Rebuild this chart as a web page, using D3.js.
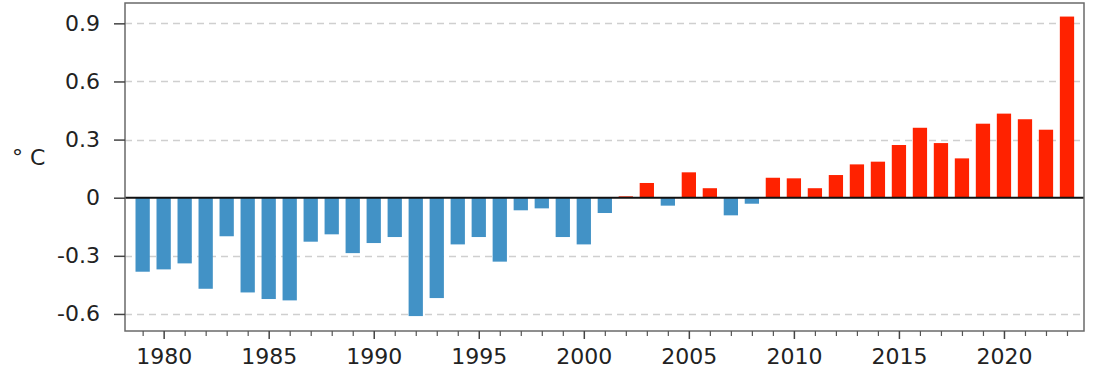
<!DOCTYPE html>
<html>
<head>
<meta charset="utf-8">
<script src="https://cdn.jsdelivr.net/npm/d3@7"></script>
<style>
  body { margin: 0; background: #fff; }
  text { font-family: "DejaVu Sans", sans-serif; fill: #222; }
</style>
</head>
<body>
<svg id="chart" width="1103" height="386"></svg>
<script>
// yearly temperature anomaly, degrees C
let years = d3.range(1979, 2024);
let anomalies = [
  -0.382, -0.370, -0.339, -0.470, -0.199, -0.489, -0.523, -0.530, -0.227, -0.189,
  -0.286, -0.234, -0.203, -0.611, -0.518, -0.241, -0.203, -0.330, -0.065, -0.055,
  -0.203, -0.241, -0.079, 0.007, 0.076, -0.041, 0.131, 0.049, -0.091, -0.031,
  0.103, 0.100, 0.049, 0.117, 0.172, 0.186, 0.272, 0.361, 0.282, 0.203,
  0.382, 0.434, 0.405, 0.351, 0.935
];
let yTicks = [-0.6, -0.3, 0, 0.3, 0.6, 0.9];
let yTickLabels = ['-0.6', '-0.3', '0', '0.3', '0.6', '0.9'];
let xMajor = [1980, 1985, 1990, 1995, 2000, 2005, 2010, 2015, 2020];

let data = years.map((y, i) => ({ year: y, value: anomalies[i] }));

let plotLeft = 125, plotRight = 1084, plotTop = 3, plotBottom = 331;

let svg = d3.select('#chart');

let x = d3.scaleLinear()
  .domain([1978.16, 2023.81])
  .range([plotLeft, plotRight]);

let y = d3.scaleLinear()
  .domain([-0.688, 1.005])
  .range([plotBottom, plotTop]);

let barW = (x(1) - x(0)) * 0.68;

// grid
svg.append('g')
  .selectAll('line')
  .data(yTicks.filter(d => d !== 0))
  .enter()
  .append('line')
  .attr('x1', plotLeft)
  .attr('x2', plotRight)
  .attr('y1', d => Math.round(y(d)) + 0.5)
  .attr('y2', d => Math.round(y(d)) + 0.5)
  .attr('stroke', '#cfcfcf')
  .attr('stroke-width', 1.3)
  .attr('stroke-dasharray', '7,5');

// bars
svg.append('g')
  .selectAll('rect')
  .data(data)
  .enter()
  .append('rect')
  .attr('x', d => x(d.year) - barW / 2)
  .attr('width', barW)
  .attr('y', d => y(Math.max(0, d.value)))
  .attr('height', d => Math.abs(y(d.value) - y(0)))
  .attr('fill', d => d.value >= 0 ? '#ff2200' : '#4292c6');

// zero line
svg.append('line')
  .attr('x1', plotLeft)
  .attr('x2', plotRight)
  .attr('y1', y(0))
  .attr('y2', y(0))
  .attr('stroke', '#111')
  .attr('stroke-width', 2);

// frame
svg.append('rect')
  .attr('x', plotLeft)
  .attr('y', plotTop)
  .attr('width', plotRight - plotLeft)
  .attr('height', plotBottom - plotTop)
  .attr('fill', 'none')
  .attr('stroke', '#6a6a6a')
  .attr('stroke-width', 1.5);

// y axis
let yAxis = d3.axisLeft(y)
  .tickValues(yTicks)
  .tickFormat((d, i) => yTickLabels[i])
  .tickSize(11)
  .tickPadding(14);

let gy = svg.append('g')
  .attr('transform', `translate(${plotLeft},0)`)
  .call(yAxis);
gy.select('.domain').remove();
gy.selectAll('line').attr('stroke', '#444').attr('stroke-width', 1.5);
gy.selectAll('text').attr('font-size', 22).attr('fill', '#222');

// x axis, minor then major
let gxMinor = svg.append('g')
  .attr('transform', `translate(0,${plotBottom})`)
  .call(d3.axisBottom(x).tickValues(years.filter(d => d % 5 !== 0)).tickSize(5).tickFormat(''));
gxMinor.select('.domain').remove();
gxMinor.selectAll('line').attr('stroke', '#555').attr('stroke-width', 1.2);

let gx = svg.append('g')
  .attr('transform', `translate(0,${plotBottom})`)
  .call(d3.axisBottom(x).tickValues(xMajor).tickFormat(d3.format('d')).tickSize(8).tickPadding(9));
gx.select('.domain').remove();
gx.selectAll('line').attr('stroke', '#444').attr('stroke-width', 1.5);
gx.selectAll('text').attr('font-size', 22).attr('fill', '#222');

// y label
svg.append('text')
  .attr('x', 12)
  .attr('y', 165)
  .attr('font-size', 22)
  .text('° C');
</script>
</body>
</html>
